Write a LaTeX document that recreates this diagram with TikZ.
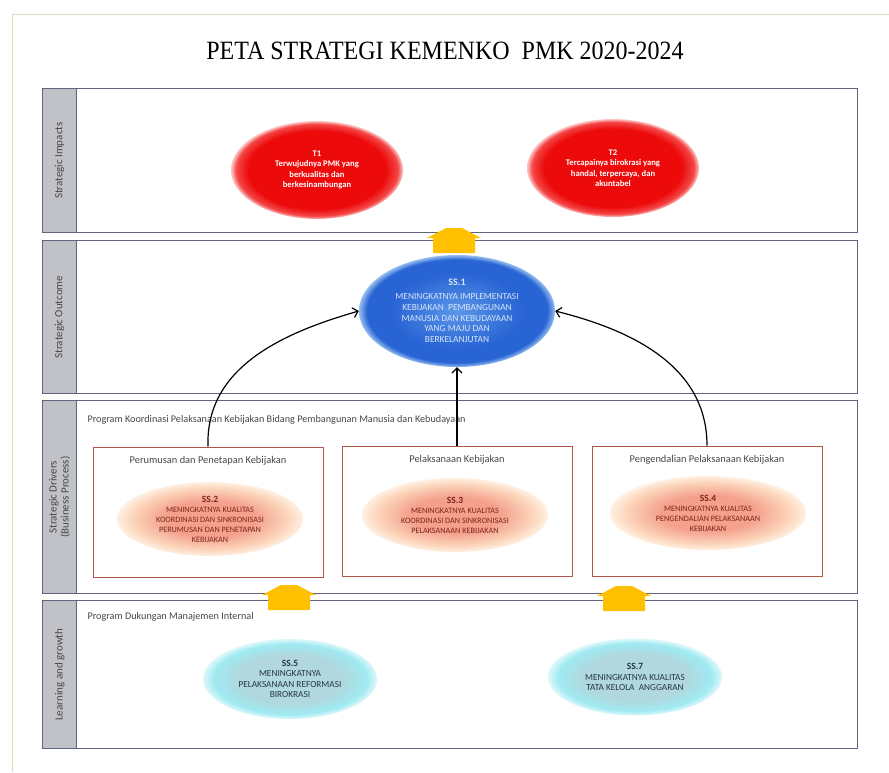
\documentclass[tikz,border=0pt]{standalone}
\usepackage{fontspec}
\setmainfont{Carlito}
\newfontfamily\titlefont{Liberation Serif}
\usepackage{xcolor}
\usepackage{tikz}
\usetikzlibrary{shapes,arrows.meta,positioning}

\definecolor{bandline}{RGB}{95,100,128}
\definecolor{bandgray}{RGB}{192,194,200}
\definecolor{boxline}{RGB}{178,86,74}
\definecolor{gold}{RGB}{255,192,0}
\definecolor{frameline}{RGB}{214,222,190}
\definecolor{redA}{RGB}{236,10,10}
\definecolor{redB}{RGB}{244,70,70}
\definecolor{redC}{RGB}{252,200,200}
\definecolor{blueA}{RGB}{92,150,232}
\definecolor{blueB}{RGB}{40,100,212}
\definecolor{blueC}{RGB}{150,190,240}
\definecolor{peachA}{RGB}{244,160,140}
\definecolor{peachB}{RGB}{252,214,188}
\definecolor{peachC}{RGB}{255,240,226}
\definecolor{tealA}{RGB}{176,216,222}
\definecolor{tealB}{RGB}{160,234,242}
\definecolor{tealC}{RGB}{222,248,250}
\definecolor{peachtext}{RGB}{125,38,28}
\definecolor{tealtext}{RGB}{40,55,68}
\definecolor{labeltext}{RGB}{70,70,72}

% soft-edged fills for the objective ellipses
\pgfdeclareradialshading{redglow}{\pgfpoint{0bp}{0bp}}{color(0bp)=(redA); color(20bp)=(redA); color(23.5bp)=(redB); color(25bp)=(redC); color(50bp)=(white)}
\pgfdeclareradialshading{blueglow}{\pgfpoint{0bp}{0bp}}{color(0bp)=(blueA); color(17bp)=(blueB); color(23bp)=(blueB); color(25bp)=(blueC); color(50bp)=(white)}
\pgfdeclareradialshading{peachglow}{\pgfpoint{0bp}{0bp}}{color(0bp)=(peachA); color(12bp)=(peachA); color(21bp)=(peachB); color(25bp)=(peachC); color(50bp)=(white)}
\pgfdeclareradialshading{tealglow}{\pgfpoint{0bp}{0bp}}{color(0bp)=(tealA); color(15bp)=(tealA); color(22bp)=(tealB); color(25bp)=(tealC); color(50bp)=(white)}

\tikzstyle{band} = [rectangle, draw=bandline, line width=1.3pt, inner sep=0pt, anchor=north west]
\tikzstyle{bandside} = [rectangle, draw=bandline, fill=bandgray, line width=1.3pt, inner sep=0pt, anchor=north west, minimum width=34pt]
\tikzstyle{bandlabel} = [rotate=90, align=center, text=labeltext, font=\fontsize{11}{12}\selectfont]
\tikzstyle{progtext} = [anchor=west, text=labeltext, font=\fontsize{10.2}{12}\selectfont]
\tikzstyle{process} = [rectangle, draw=boxline, line width=1pt, minimum width=230pt, minimum height=130pt]
\tikzstyle{boxtitle} = [text=labeltext, font=\fontsize{10.4}{12}\selectfont]
\tikzstyle{impact} = [ellipse, shading=redglow, inner sep=0pt, minimum width=172pt, minimum height=98pt, align=center, text=white, font=\bfseries\fontsize{8.6}{10.5}\selectfont]
\tikzstyle{outcome} = [ellipse, shading=blueglow, inner sep=0pt, minimum width=196pt, minimum height=112pt, align=center, text=blueC!40!white, font=\fontsize{9.4}{10.8}\selectfont]
\tikzstyle{driver} = [ellipse, shading=peachglow, inner sep=0pt, minimum width=186pt, minimum height=74pt, align=center, text=peachtext, font=\fontsize{8.2}{10}\selectfont]
\tikzstyle{growth} = [ellipse, shading=tealglow, inner sep=0pt, minimum width=174pt, minimum height=80pt, align=center, text=tealtext, font=\fontsize{9.3}{10.2}\selectfont]
\tikzstyle{link} = [draw, line width=1.2pt, -{Straight Barb[length=5pt,width=10pt]}]
\tikzset{lift/.pic={\fill[gold] (-21,25) -- (-21,10) -- (-27,10) -- (-8,0) -- (8,0) -- (27,10) -- (21,10) -- (21,25) -- cycle;}}

\begin{document}
\begin{tikzpicture}[x=1pt,y=-1pt]
\useasboundingbox (0,0) rectangle (889,772);
\draw[frameline, line width=1pt] (889,14) -- (12,14) -- (12,772);

\node[font=\titlefont\fontsize{24}{28}\selectfont, yscale=1.1] (title) at (445,51) {PETA STRATEGI KEMENKO~ PMK 2020-2024};

% bands
\node[band, minimum width=815pt, minimum height=144pt] (impacts) at (42,88) {};
\node[band, minimum width=815pt, minimum height=153pt] (outcomes) at (42,240) {};
\node[band, minimum width=815pt, minimum height=193pt] (drivers) at (42,400) {};
\node[band, minimum width=815pt, minimum height=148pt] (growthband) at (42,600) {};
\node[bandside, minimum height=144pt] (side-imp) at (42,88) {};
\node[bandside, minimum height=153pt] (side-out) at (42,240) {};
\node[bandside, minimum height=193pt] (side-drv) at (42,400) {};
\node[bandside, minimum height=148pt] (side-lg) at (42,600) {};
\node[bandlabel] (lab-imp) at (side-imp.center) {Strategic Impacts};
\node[bandlabel] (lab-out) at (side-out.center) {Strategic Outcome};
\node[bandlabel] (lab-drv) at (side-drv.center) {Strategic Drivers\\(Business Process)};
\node[bandlabel] (lab-lg) at (side-lg.center) {Learning and growth};

% strategic impacts
\node[impact] (t1) at (317,170) {T1\\Terwujudnya PMK yang\\berkualitas dan\\berkesinambungan};
\node[impact] (t2) at (613,168) {T2\\Tercapainya birokrasi yang\\handal, terpercaya, dan\\akuntabel};

% strategic outcome
\node[outcome] (ss1) at (457,311) {{\bfseries\fontsize{10}{12}\selectfont SS.1}\\[3pt]MENINGKATNYA IMPLEMENTASI\\KEBIJAKAN~ PEMBANGUNAN\\MANUSIA DAN KEBUDAYAAN\\YANG MAJU DAN\\BERKELANJUTAN};

% strategic drivers
\node[progtext] (prog-koord) at (84,420) {Program Koordinasi Pelaksanaan Kebijakan Bidang Pembangunan Manusia dan Kebudayaan};
\node[process] (box1) at (208,512) {};
\node[process] (box2) at (457,511) {};
\node[process] (box3) at (707,511) {};
\node[boxtitle, below=6pt of box1.north] (tit1) {Perumusan dan Penetapan Kebijakan};
\node[boxtitle, below=6pt of box2.north] (tit2) {Pelaksanaan Kebijakan};
\node[boxtitle, below=6pt of box3.north] (tit3) {Pengendalian Pelaksanaan Kebijakan};
\node[driver] (ss2) at (210,519) {{\bfseries\fontsize{9.5}{11}\selectfont SS.2}\\MENINGKATNYA KUALITAS\\KOORDINASI DAN SINKRONISASI\\PERUMUSAN DAN PENETAPAN\\KEBIJAKAN};
\node[driver] (ss3) at (455,515) {{\bfseries\fontsize{9.5}{11}\selectfont SS.3}\\MENINGKATNYA KUALITAS\\KOORDINASI DAN SINKRONISASI\\PELAKSANAAN KEBIJAKAN};
\node[driver, minimum width=196pt] (ss4) at (708,513) {{\bfseries\fontsize{9.5}{11}\selectfont SS.4}\\MENINGKATNYA KUALITAS\\PENGENDALIAN PELAKSANAAN\\KEBIJAKAN};

% learning and growth
\node[progtext] (prog-manaj) at (84,617) {Program Dukungan Manajemen Internal};
\node[growth] (ss5) at (290,679) {{\bfseries\fontsize{9.5}{11}\selectfont SS.5}\\MENINGKATNYA\\PELAKSANAAN REFORMASI\\BIROKRASI};
\node[growth, minimum height=77pt] (ss7) at (635,677) {{\bfseries\fontsize{9.5}{11}\selectfont SS.7}\\MENINGKATNYA KUALITAS\\TATA KELOLA~ ANGGARAN};

% links between levels
\pic (liftA) at (454,228) {lift};
\pic (liftB) at (289,585) {lift};
\pic (liftC) at (624,586) {lift};
\path[link] (box1.north) to[out=92,in=196] (ss1.west);
\path[link] (box2.north) -- (ss1.south);
\path[link] (box3.north) to[out=90,in=-14] (ss1.east);
\end{tikzpicture}
\end{document}
